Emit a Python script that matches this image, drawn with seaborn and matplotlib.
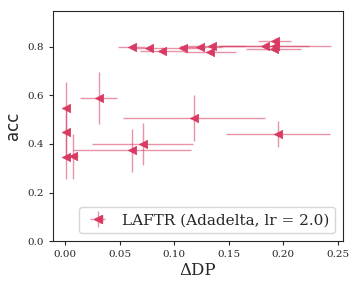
import numpy as np
import pandas as pd
import matplotlib
matplotlib.use("Agg")
import matplotlib.pyplot as plt
import seaborn as sns

# fairness (delta DP) vs accuracy
dp = [0.061, 0.077, 0.089, 0.108, 0.124, 0.133, 0.135, 0.183, 0.192, 0.192, 0.191,
      0.0006, 0.0006, 0.0006, 0.007, 0.031, 0.071, 0.061, 0.118, 0.195]
acc = [0.800, 0.796, 0.782, 0.796, 0.800, 0.777, 0.804, 0.804, 0.825, 0.803, 0.792,
       0.547, 0.448, 0.345, 0.349, 0.589, 0.400, 0.374, 0.506, 0.440]
dp_err = [0.012, 0.015, 0.020, 0.020, 0.020, 0.024, 0.030, 0.040, 0.015, 0.052, 0.025,
          0.002, 0.002, 0.002, 0.005, 0.017, 0.046, 0.054, 0.065, 0.048]
acc_err = [0.008, 0.008, 0.006, 0.008, 0.008, 0.006, 0.008, 0.008, 0.010, 0.008, 0.008,
           0.110, 0.100, 0.090, 0.092, 0.107, 0.085, 0.089, 0.094, 0.054]
LABEL = "LAFTR (Adadelta, lr = 2.0)"
COLOR = "#d83a62"

df = pd.DataFrame({"dp": dp, "acc": acc, "dp_err": dp_err, "acc_err": acc_err})

sns.set_style("ticks")
plt.rcParams["font.family"] = ["DejaVu Serif"]

fig = plt.figure(figsize=(3.6, 2.88), dpi=100)
ax = fig.add_axes([0.147, 0.163, 0.806, 0.799])

ax.errorbar(df["dp"], df["acc"], xerr=df["dp_err"], yerr=df["acc_err"],
            fmt="none", ecolor=COLOR, alpha=0.55, elinewidth=1.0)
sns.scatterplot(data=df, x="dp", y="acc", marker="<", color=COLOR, s=36,
                edgecolor=COLOR, linewidth=0.5, ax=ax, zorder=3)

# legend handle like an errorbar entry
h = ax.errorbar([], [], xerr=[], yerr=[], fmt="<", color=COLOR, ecolor=COLOR,
                elinewidth=1.0, markersize=6)
h[2][0].set_alpha(0.55)
h[2][1].set_alpha(0.55)
ax.legend([h], [LABEL], loc="lower right", fontsize=11, handletextpad=0.8,
          handlelength=1.6)

ax.set_xlim(-0.011, 0.2546)
ax.set_ylim(0.0, 0.948)
ax.set_xticks([0.0, 0.05, 0.1, 0.15, 0.2, 0.25])
ax.set_yticks([0.0, 0.2, 0.4, 0.6, 0.8])
ax.tick_params(labelsize=7.5, length=3)
ax.set_xlabel("ΔDP", fontsize=12, labelpad=2)
ax.set_ylabel("acc", fontsize=12, family=["DejaVu Sans"])

fig.savefig("out.png", dpi=100)
